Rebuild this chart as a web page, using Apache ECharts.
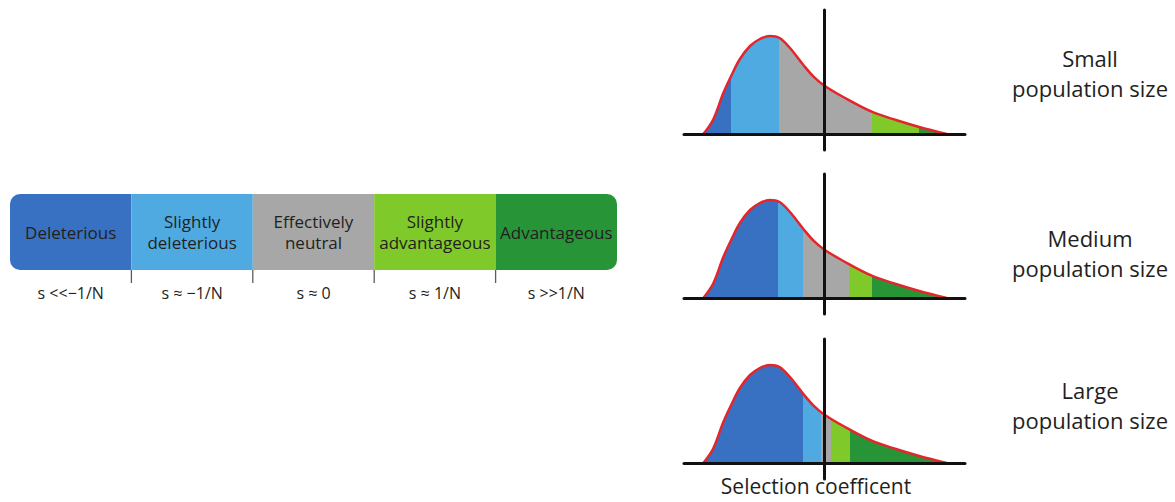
<!DOCTYPE html>
<html><head><meta charset="utf-8">
<script src="https://cdn.jsdelivr.net/npm/echarts@6/dist/echarts.min.js"></script>
<style>html,body{margin:0;padding:0;background:#fff}#c{width:1175px;height:502px}</style>
</head><body><div id="c"></div>
<script>
// ---- data ----
const segNames = ['Deleterious', 'Slightly\ndeleterious', 'Effectively\nneutral', 'Slightly\nadvantageous', 'Advantageous'];
const sLabels = ['s <<\u22121/N', 's \u2248 \u22121/N', 's \u2248 0', 's \u2248 1/N', 's >>1/N'];
const segWidths = [1, 1, 1, 1, 1];
const segBoundaries = [1, 2, 3, 4];
const popLabels = ['Small\npopulation size', 'Medium\npopulation size', 'Large\npopulation size'];
const xTitle = 'Selection coefficent';
// distribution of fitness effects (same shape in each panel)
const curveX = [-43.1, -39.6, -36.0, -33.0, -30.1, -26.5, -23.0, -19.5, -16.0, -12.3, -7.5, -4.0, 0, 6.7, 16.8, 25.7, 33.7, 43.5];
const curveY = [0, 14.5, 41, 59.3, 75, 88, 95, 98, 96, 86, 69, 57.7, 48.3, 37, 22.3, 13.7, 7, 0];
// class boundaries on the selection-coefficient axis for each population size
const cutsSmall = [-33.3, -16.2, 16.9, 33.6];
const cutsMedium = [-16.4, -7.5, 8.8, 17.0];
const cutsLarge = [-7.8, -1.4, 2.2, 9.1];

// ---- styles ----
const palette = ['#3871c1', '#4faae2', '#a6a7a6', '#80c92a', '#289438'];
const textColor = '#231f20';
const font = 'Open Sans';
const panelCuts = [cutsSmall, cutsMedium, cutsLarge];
const panelTops = [10, 174, 339];
const labelCenters = [73, 253, 405];

const chart = echarts.init(document.getElementById('c'), null, {renderer: 'svg'});
const curve = curveX.map((x, i) => [x, curveY[i]]);

const grids = [
  {left: 10, top: 194, width: 607, height: 76},
  {left: 10, top: 270, width: 607, height: 13}
];
const xAxes = [
  {type: 'category', gridIndex: 0, data: sLabels, axisLine: {show: false}, axisTick: {show: false},
   axisLabel: {interval: 0, margin: 15, fontSize: 16, color: textColor, fontFamily: font}},
  {type: 'value', gridIndex: 1, min: 0, max: 5, show: false}
];
const yAxes = [
  {type: 'value', gridIndex: 0, min: 0, max: 1, show: false},
  {type: 'value', gridIndex: 1, min: 0, max: 1, show: false}
];
const series = [
  {type: 'bar', xAxisIndex: 0, yAxisIndex: 0, barCategoryGap: '0%', silent: true,
   data: segWidths.map((v, i) => ({value: v, itemStyle: {color: palette[i],
     borderRadius: i === 0 ? [10, 0, 0, 10] : (i === segWidths.length - 1 ? [0, 10, 10, 0] : 0)}})),
   label: {show: true, position: 'inside', formatter: p => segNames[p.dataIndex],
     fontSize: 17, lineHeight: 21, color: textColor, fontFamily: font}},
  {type: 'scatter', xAxisIndex: 1, yAxisIndex: 1, symbol: 'rect', symbolSize: [1.3, 13], silent: true,
   itemStyle: {color: '#333'}, data: segBoundaries.map(b => [b, 0.5])}
];
const visualMaps = [];
panelTops.forEach((top, k) => {
  const gi = grids.length;
  grids.push({left: 684, width: 281, top: top, height: 140});
  const axisLine = {show: true, onZero: true, lineStyle: {color: '#111', width: 3}};
  xAxes.push({type: 'value', gridIndex: gi, min: -50, max: 50, z: 5, axisLine: axisLine,
    axisTick: {show: false}, axisLabel: {show: false}, splitLine: {show: false}});
  yAxes.push({type: 'value', gridIndex: gi, min: -16, max: 124, z: 5, axisLine: axisLine,
    axisTick: {show: false}, axisLabel: {show: false}, splitLine: {show: false}});
  const fillIdx = series.length;
  series.push({type: 'line', xAxisIndex: gi, yAxisIndex: gi, data: curve, smooth: 0.35, showSymbol: false,
    silent: true, z: 1, lineStyle: {width: 0}, areaStyle: {opacity: 1}});
  series.push({type: 'line', xAxisIndex: gi, yAxisIndex: gi, data: curve, smooth: 0.35, showSymbol: false,
    silent: true, z: 3, lineStyle: {color: '#e3262b', width: 2.5}, itemStyle: {color: '#e3262b'}});
  const c = panelCuts[k];
  visualMaps.push({type: 'piecewise', show: false, dimension: 0, seriesIndex: fillIdx,
    pieces: [
      {lt: c[0], color: palette[0]},
      {gte: c[0], lt: c[1], color: palette[1]},
      {gte: c[1], lt: c[2], color: palette[2]},
      {gte: c[2], lt: c[3], color: palette[3]},
      {gte: c[3], color: palette[4]}
    ]});
});

const graphics = popLabels.map((t, k) => ({
  type: 'text', x: 1090, y: labelCenters[k],
  style: {text: t, align: 'center', verticalAlign: 'middle', fontSize: 22, lineHeight: 30,
          fontFamily: font, fill: textColor}
}));
graphics.push({type: 'text', x: 816, y: 486,
  style: {text: xTitle, align: 'center', verticalAlign: 'middle', fontSize: 21, fontFamily: font, fill: textColor}});

chart.setOption({
  animation: false,
  backgroundColor: '#fff',
  grid: grids, xAxis: xAxes, yAxis: yAxes, series: series,
  visualMap: visualMaps, graphic: graphics
});
</script></body></html>
